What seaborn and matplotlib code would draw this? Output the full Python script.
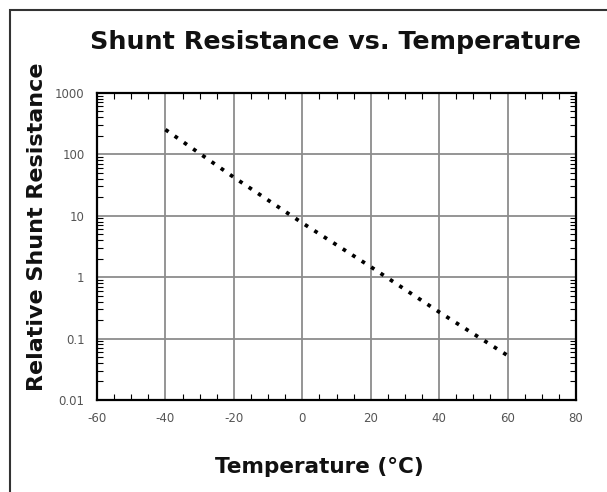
import numpy as np
import pandas as pd
import matplotlib
matplotlib.use('Agg')
import matplotlib.pyplot as plt
import matplotlib.ticker as mticker
from matplotlib.patches import Rectangle
import seaborn as sns

# values
temperature = [-40, -20, 0, 20, 40, 60]
resistance = [251, 42, 7.6, 1.47, 0.27, 0.053]
x_ticks = [-60, -40, -20, 0, 20, 40, 60, 80]
y_ticks = [0.01, 0.1, 1, 10, 100, 1000]
y_tick_labels = ['0.01', '0.1', '1', '10', '100', '1000']

sns.set_style('white')
plt.rcParams['font.family'] = ['DejaVu Sans']

df = pd.DataFrame({'temp': temperature, 'res': resistance})

fig = plt.figure(figsize=(6.07, 4.92), dpi=100)
ax = fig.add_axes([97 / 607, 1 - 400 / 492, 479 / 607, 307.3 / 492])

sns.lineplot(data=df, x='temp', y='res', ax=ax, color='black',
             lw=2.7, linestyle=(0, (1, 2.0)))

ax.set_yscale('log')
ax.set_xlim(-60, 80)
ax.set_ylim(0.01, 1000)
ax.set_xticks(x_ticks)
ax.set_xticklabels([str(t) for t in x_ticks])
ax.set_yticks(y_ticks)
ax.set_yticklabels(y_tick_labels)
ax.xaxis.set_minor_locator(mticker.MultipleLocator(5))
ax.yaxis.set_minor_locator(mticker.LogLocator(base=10, subs=np.arange(2, 10)))
ax.yaxis.set_minor_formatter(mticker.NullFormatter())

ax.grid(True, which='major', color='#8c8c8c', lw=1.3)
ax.tick_params(which='both', direction='in', top=True, right=True,
               bottom=True, left=True, color='black')
ax.tick_params(which='major', length=0, labelsize=8.5, labelcolor='#555555', pad=9)
ax.tick_params(which='minor', length=4, width=0.8)
for s in ax.spines.values():
    s.set_color('black')
    s.set_linewidth(1.6)

ax.set_xlabel('')
ax.set_ylabel('')
fig.text(319 / 607, 1 - 467 / 492, 'Temperature (°C)', fontsize=15.5,
         fontweight='bold', color='#111111', ha='center', va='center')
fig.text(37 / 607, 1 - 227 / 492, 'Relative Shunt Resistance', fontsize=16,
         fontweight='bold', color='#111111', rotation=90, ha='center', va='center')
fig.text(336 / 607, 1 - 42 / 492, 'Shunt Resistance vs. Temperature',
         fontsize=18.3, fontweight='bold', color='#111111', ha='center', va='center')

fig.patches.append(Rectangle((10 / 607, -0.1), 1.2, 1 - 10 / 492 + 0.1,
                             transform=fig.transFigure, fill=False,
                             edgecolor='#333333', lw=1.5))

fig.savefig('out.png', dpi=100)
